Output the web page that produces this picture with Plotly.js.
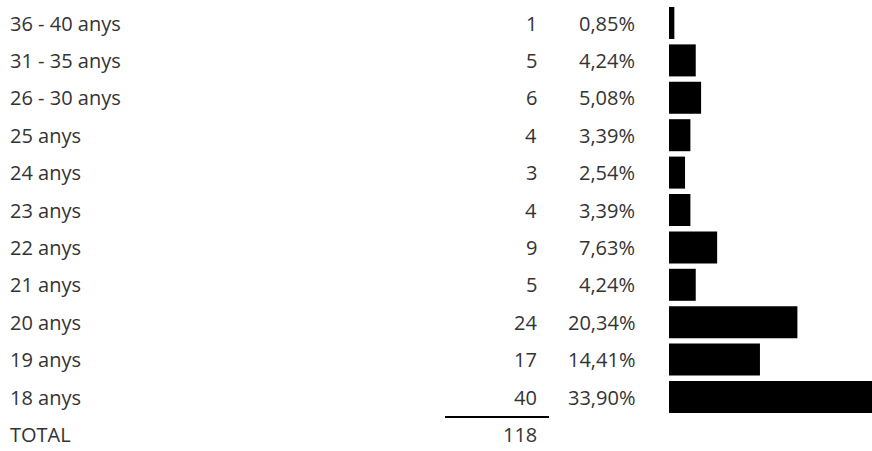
<!DOCTYPE html>
<html>
<head>
<meta charset="utf-8">
<script src="https://cdn.plot.ly/plotly-3.0.1.min.js"></script>
<style>html,body{margin:0;padding:0;background:#fff;}#chart{width:872px;height:451px;}</style>
</head>
<body>
<div id="chart"></div>
<script>
const categories = ["36 - 40 anys","31 - 35 anys","26 - 30 anys","25 anys","24 anys","23 anys","22 anys","21 anys","20 anys","19 anys","18 anys"];
const counts = [1,5,6,4,3,4,9,5,24,17,40];
const percents = ["0,85%","4,24%","5,08%","3,39%","2,54%","3,39%","7,63%","4,24%","20,34%","14,41%","33,90%"];
const totalLabel = "TOTAL";
const totalValue = 118;

const W = 872, H = 451;
const plotLeft = 669;
const plotW = W - plotLeft;
const rowH = 37.4;
const firstCenter = 23;
const px = v => (v - plotLeft) / plotW;
const py = y => (H - y) / H;

const rows = categories.concat([totalLabel]);
const r0 = -firstCenter / rowH;
const r1 = r0 + H / rowH;

const font = {family: "Open Sans, sans-serif", size: 20, color: "#333333"};
const annotations = [];
rows.forEach((c, i) => {
  annotations.push({xref: "paper", yref: "y", x: px(8), y: c, text: c, showarrow: false, xanchor: "left", yanchor: "middle", font: font});
  const cnt = i < counts.length ? String(counts[i]) : String(totalValue);
  annotations.push({xref: "paper", yref: "y", x: px(539), y: c, text: cnt, showarrow: false, xanchor: "right", yanchor: "middle", font: font});
  if (i < percents.length) {
    annotations.push({xref: "paper", yref: "y", x: px(637), y: c, text: percents[i], showarrow: false, xanchor: "right", yanchor: "middle", font: font});
  }
});

const trace = {
  type: "bar",
  orientation: "h",
  x: counts,
  y: categories,
  marker: {color: "#000000", line: {width: 0}},
  width: 0.856,
  hoverinfo: "skip"
};

const layout = {
  width: W, height: H,
  margin: {l: plotLeft, r: 0, t: 0, b: 0, pad: 0},
  paper_bgcolor: "#ffffff",
  plot_bgcolor: "#ffffff",
  showlegend: false,
  xaxis: {range: [0, plotW / 5.35], showgrid: false, zeroline: false, showticklabels: false, showline: false, ticks: ""},
  yaxis: {type: "category", categoryorder: "array", categoryarray: rows, range: [r1, r0], showgrid: false, zeroline: false, showticklabels: false, showline: false, ticks: ""},
  annotations: annotations,
  shapes: [{type: "line", xref: "paper", yref: "paper", x0: px(445), x1: px(549), y0: py(417), y1: py(417), line: {color: "#000000", width: 2}}]
};

Plotly.newPlot("chart", [trace], layout, {displayModeBar: false, staticPlot: true});
</script>
</body>
</html>
